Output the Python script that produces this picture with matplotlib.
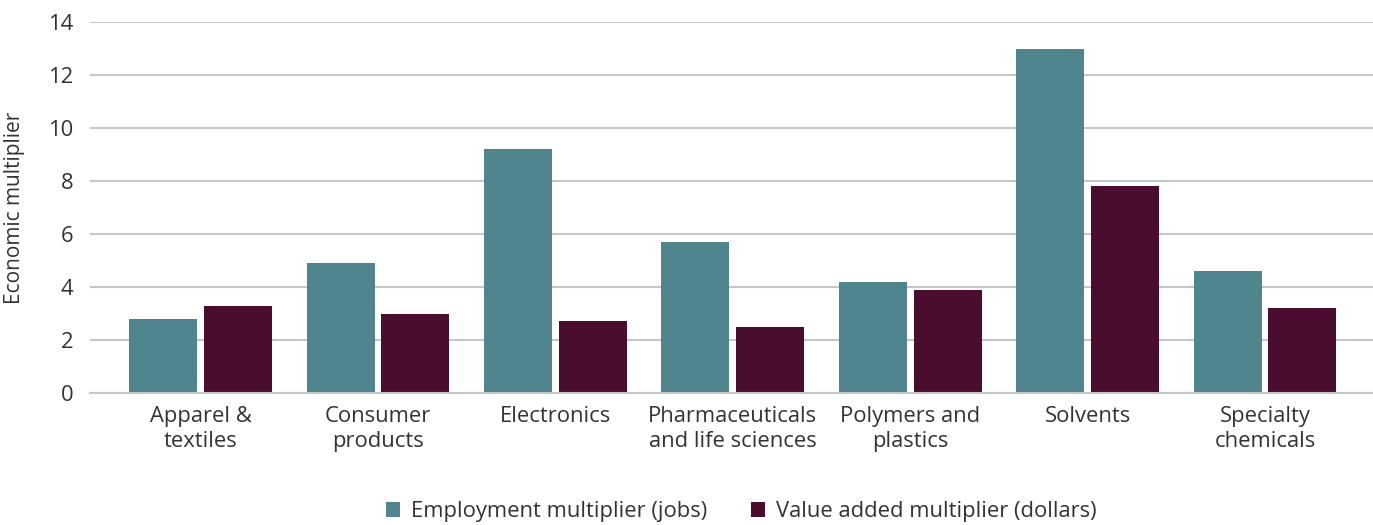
import matplotlib
matplotlib.use('agg')
import matplotlib.pyplot as plt
import numpy as np

# values
categories = ["Apparel &\ntextiles", "Consumer\nproducts", "Electronics",
              "Pharmaceuticals\nand life sciences", "Polymers and\nplastics",
              "Solvents", "Specialty\nchemicals"]
employment = [2.8, 4.9, 9.2, 5.7, 4.2, 13.0, 4.6]
value_added = [3.3, 3.0, 2.7, 2.5, 3.9, 7.8, 3.2]
series_names = ["Employment multiplier (jobs)", "Value added multiplier (dollars)"]
y_ticks = [0, 2, 4, 6, 8, 10, 12, 14]

TEAL = "#50858d"
MAROON = "#4a0d2f"
GRID = "#c3c7cb"
TEXT = "#333333"
FS = 15.8

plt.rcParams['font.family'] = ['Open Sans', 'DejaVu Sans']

fig = plt.figure(figsize=(13.73, 5.25), dpi=100)
ax = fig.add_axes([0.0656, 0.2514, 0.9344, 0.7066])

x = np.arange(len(categories))
width = 0.383
offset = 0.211
ax.bar(x - offset, employment, width, color=TEAL, label=series_names[0], zorder=3)
ax.bar(x + offset, value_added, width, color=MAROON, label=series_names[1], zorder=3)

ax.set_xlim(-0.623, 6.609)
ax.set_ylim(0, 14)
ax.set_yticks(y_ticks)
ax.yaxis.grid(True, color=GRID, linewidth=1.5, zorder=0)
ax.set_axisbelow(True)
for s in ["top", "right", "left"]:
    ax.spines[s].set_visible(False)
ax.spines["bottom"].set_color(GRID)
ax.spines["bottom"].set_linewidth(1.5)
ax.spines["bottom"].set_zorder(4)

ax.set_xticks(x)
ax.set_xticklabels(categories, fontsize=FS, color=TEXT, linespacing=1.3)
ax.tick_params(axis='x', length=0, pad=9)
ax.tick_params(axis='y', length=0, pad=12, labelsize=FS, labelcolor=TEXT)
ax.set_ylabel("Economic multiplier", fontsize=15, color=TEXT)
ax.yaxis.set_label_coords(-0.0505, 0.5)

fig.legend(loc="lower center", bbox_to_anchor=(0.54, -0.032), ncol=2, frameon=False,
           fontsize=FS, handlelength=0.65, handleheight=0.65, columnspacing=2.0,
           handletextpad=0.5, labelcolor=TEXT)

plt.savefig("out.png", dpi=100)
